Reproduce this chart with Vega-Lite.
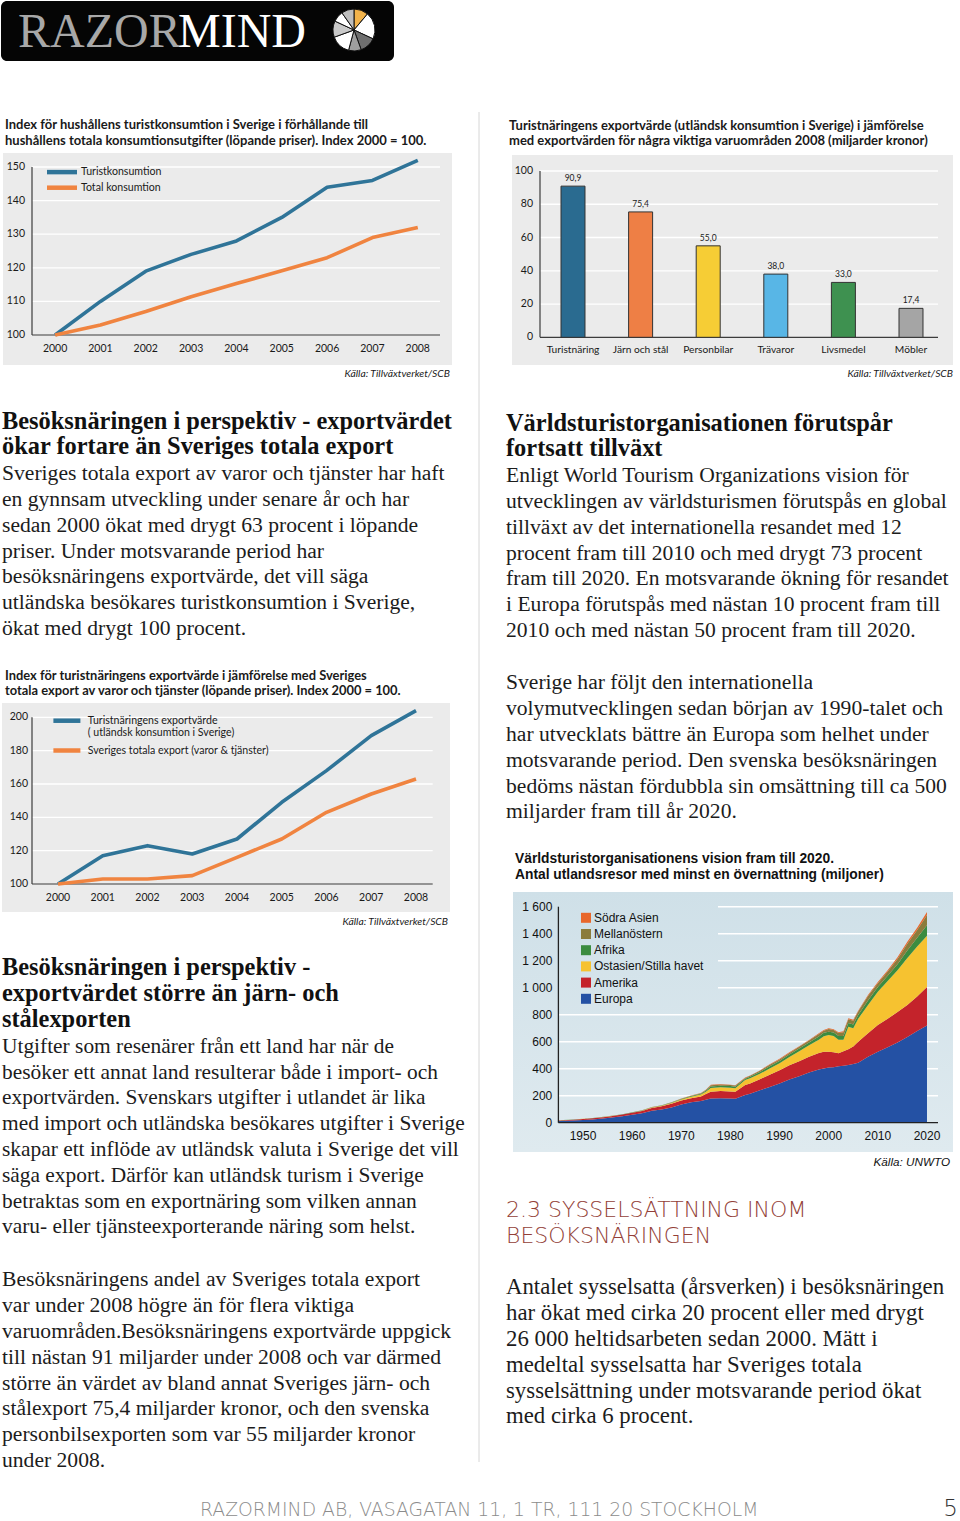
{
 "$schema": "https://vega.github.io/schema/vega-lite/v6.json",
 "width": 960,
 "height": 1521,
 "padding": 0,
 "autosize": {"type": "none"},
 "background": "#ffffff",
 "config": {
  "view": {"stroke": null},
  "axis": {"labelFlush": false, "labelOverlap": false},
  "locale": {"number": {"decimal": ",", "thousands": " ", "grouping": [3], "currency": ["", " kr"]}},
  "legend": {"symbolOpacity": 1}
 },
 "resolve": {"scale": {"x": "independent", "y": "independent", "color": "independent"}, "axis": {"x": "independent", "y": "independent"}, "legend": {"color": "independent"}},
 "datasets": {
  "c1": [
   {"year": 2000, "serie": "Turistkonsumtion", "value": 100},
   {"year": 2001, "serie": "Turistkonsumtion", "value": 110},
   {"year": 2002, "serie": "Turistkonsumtion", "value": 119},
   {"year": 2003, "serie": "Turistkonsumtion", "value": 124},
   {"year": 2004, "serie": "Turistkonsumtion", "value": 128},
   {"year": 2005, "serie": "Turistkonsumtion", "value": 135},
   {"year": 2006, "serie": "Turistkonsumtion", "value": 144},
   {"year": 2007, "serie": "Turistkonsumtion", "value": 146},
   {"year": 2008, "serie": "Turistkonsumtion", "value": 152},
   {"year": 2000, "serie": "Total konsumtion", "value": 100},
   {"year": 2001, "serie": "Total konsumtion", "value": 103},
   {"year": 2002, "serie": "Total konsumtion", "value": 107},
   {"year": 2003, "serie": "Total konsumtion", "value": 111.4},
   {"year": 2004, "serie": "Total konsumtion", "value": 115.3},
   {"year": 2005, "serie": "Total konsumtion", "value": 119.1},
   {"year": 2006, "serie": "Total konsumtion", "value": 123},
   {"year": 2007, "serie": "Total konsumtion", "value": 129},
   {"year": 2008, "serie": "Total konsumtion", "value": 132}
  ],
  "c2": [
   {"cat": "Turistnäring", "value": 90.9},
   {"cat": "Järn och stål", "value": 75.4},
   {"cat": "Personbilar", "value": 55.0},
   {"cat": "Trävaror", "value": 38.0},
   {"cat": "Livsmedel", "value": 33.0},
   {"cat": "Möbler", "value": 17.4}
  ],
  "c3": [
   {"year": 2000, "serie": "Turistnäringens exportvärde", "value": 100},
   {"year": 2001, "serie": "Turistnäringens exportvärde", "value": 117},
   {"year": 2002, "serie": "Turistnäringens exportvärde", "value": 123},
   {"year": 2003, "serie": "Turistnäringens exportvärde", "value": 118},
   {"year": 2004, "serie": "Turistnäringens exportvärde", "value": 127},
   {"year": 2005, "serie": "Turistnäringens exportvärde", "value": 149},
   {"year": 2006, "serie": "Turistnäringens exportvärde", "value": 168},
   {"year": 2007, "serie": "Turistnäringens exportvärde", "value": 189},
   {"year": 2008, "serie": "Turistnäringens exportvärde", "value": 204},
   {"year": 2000, "serie": "Sveriges totala export (varor & tjänster)", "value": 100},
   {"year": 2001, "serie": "Sveriges totala export (varor & tjänster)", "value": 103},
   {"year": 2002, "serie": "Sveriges totala export (varor & tjänster)", "value": 103},
   {"year": 2003, "serie": "Sveriges totala export (varor & tjänster)", "value": 105},
   {"year": 2004, "serie": "Sveriges totala export (varor & tjänster)", "value": 116},
   {"year": 2005, "serie": "Sveriges totala export (varor & tjänster)", "value": 127},
   {"year": 2006, "serie": "Sveriges totala export (varor & tjänster)", "value": 143},
   {"year": 2007, "serie": "Sveriges totala export (varor & tjänster)", "value": 154},
   {"year": 2008, "serie": "Sveriges totala export (varor & tjänster)", "value": 163}
  ],
  "c4": [
   {"year":1945,"region":"Europa","k":1,"value":12},{"year":1945,"region":"Amerika","k":2,"value":5},{"year":1945,"region":"Ostasien/Stilla havet","k":3,"value":0.3},{"year":1945,"region":"Afrika","k":4,"value":0.5},{"year":1945,"region":"Mellanöstern","k":5,"value":0.3},{"year":1945,"region":"Södra Asien","k":6,"value":0.2},
   {"year":1948,"region":"Europa","k":1,"value":16},{"year":1948,"region":"Amerika","k":2,"value":6},{"year":1948,"region":"Ostasien/Stilla havet","k":3,"value":0.4},{"year":1948,"region":"Afrika","k":4,"value":0.5},{"year":1948,"region":"Mellanöstern","k":5,"value":0.3},{"year":1948,"region":"Södra Asien","k":6,"value":0.2},
   {"year":1950,"region":"Europa","k":1,"value":20},{"year":1950,"region":"Amerika","k":2,"value":8},{"year":1950,"region":"Ostasien/Stilla havet","k":3,"value":0.5},{"year":1950,"region":"Afrika","k":4,"value":0.6},{"year":1950,"region":"Mellanöstern","k":5,"value":0.4},{"year":1950,"region":"Södra Asien","k":6,"value":0.2},
   {"year":1952,"region":"Europa","k":1,"value":24},{"year":1952,"region":"Amerika","k":2,"value":9},{"year":1952,"region":"Ostasien/Stilla havet","k":3,"value":0.6},{"year":1952,"region":"Afrika","k":4,"value":0.7},{"year":1952,"region":"Mellanöstern","k":5,"value":0.4},{"year":1952,"region":"Södra Asien","k":6,"value":0.2},
   {"year":1955,"region":"Europa","k":1,"value":34},{"year":1955,"region":"Amerika","k":2,"value":11},{"year":1955,"region":"Ostasien/Stilla havet","k":3,"value":0.8},{"year":1955,"region":"Afrika","k":4,"value":0.8},{"year":1955,"region":"Mellanöstern","k":5,"value":0.5},{"year":1955,"region":"Södra Asien","k":6,"value":0.3},
   {"year":1958,"region":"Europa","k":1,"value":48},{"year":1958,"region":"Amerika","k":2,"value":12},{"year":1958,"region":"Ostasien/Stilla havet","k":3,"value":1.2},{"year":1958,"region":"Afrika","k":4,"value":1},{"year":1958,"region":"Mellanöstern","k":5,"value":0.7},{"year":1958,"region":"Södra Asien","k":6,"value":0.3},
   {"year":1960,"region":"Europa","k":1,"value":58},{"year":1960,"region":"Amerika","k":2,"value":15},{"year":1960,"region":"Ostasien/Stilla havet","k":3,"value":1.5},{"year":1960,"region":"Afrika","k":4,"value":1.2},{"year":1960,"region":"Mellanöstern","k":5,"value":0.8},{"year":1960,"region":"Södra Asien","k":6,"value":0.4},
   {"year":1962,"region":"Europa","k":1,"value":70},{"year":1962,"region":"Amerika","k":2,"value":17},{"year":1962,"region":"Ostasien/Stilla havet","k":3,"value":2},{"year":1962,"region":"Afrika","k":4,"value":1.4},{"year":1962,"region":"Mellanöstern","k":5,"value":1},{"year":1962,"region":"Södra Asien","k":6,"value":0.5},
   {"year":1964,"region":"Europa","k":1,"value":88},{"year":1964,"region":"Amerika","k":2,"value":21},{"year":1964,"region":"Ostasien/Stilla havet","k":3,"value":3},{"year":1964,"region":"Afrika","k":4,"value":1.8},{"year":1964,"region":"Mellanöstern","k":5,"value":1.3},{"year":1964,"region":"Södra Asien","k":6,"value":0.6},
   {"year":1966,"region":"Europa","k":1,"value":97},{"year":1966,"region":"Amerika","k":2,"value":24},{"year":1966,"region":"Ostasien/Stilla havet","k":3,"value":4},{"year":1966,"region":"Afrika","k":4,"value":2.2},{"year":1966,"region":"Mellanöstern","k":5,"value":1.6},{"year":1966,"region":"Södra Asien","k":6,"value":0.7},
   {"year":1968,"region":"Europa","k":1,"value":112},{"year":1968,"region":"Amerika","k":2,"value":28},{"year":1968,"region":"Ostasien/Stilla havet","k":3,"value":6},{"year":1968,"region":"Afrika","k":4,"value":2.7},{"year":1968,"region":"Mellanöstern","k":5,"value":2},{"year":1968,"region":"Södra Asien","k":6,"value":0.8},
   {"year":1970,"region":"Europa","k":1,"value":135},{"year":1970,"region":"Amerika","k":2,"value":29},{"year":1970,"region":"Ostasien/Stilla havet","k":3,"value":8},{"year":1970,"region":"Afrika","k":4,"value":3.5},{"year":1970,"region":"Mellanöstern","k":5,"value":2.5},{"year":1970,"region":"Södra Asien","k":6,"value":1},
   {"year":1972,"region":"Europa","k":1,"value":152},{"year":1972,"region":"Amerika","k":2,"value":30},{"year":1972,"region":"Ostasien/Stilla havet","k":3,"value":11},{"year":1972,"region":"Afrika","k":4,"value":4},{"year":1972,"region":"Mellanöstern","k":5,"value":3},{"year":1972,"region":"Södra Asien","k":6,"value":1.2},
   {"year":1974,"region":"Europa","k":1,"value":160},{"year":1974,"region":"Amerika","k":2,"value":35},{"year":1974,"region":"Ostasien/Stilla havet","k":3,"value":14},{"year":1974,"region":"Afrika","k":4,"value":5},{"year":1974,"region":"Mellanöstern","k":5,"value":4},{"year":1974,"region":"Södra Asien","k":6,"value":1.5},
   {"year":1975,"region":"Europa","k":1,"value":170},{"year":1975,"region":"Amerika","k":2,"value":42},{"year":1975,"region":"Ostasien/Stilla havet","k":3,"value":18},{"year":1975,"region":"Afrika","k":4,"value":7},{"year":1975,"region":"Mellanöstern","k":5,"value":5},{"year":1975,"region":"Södra Asien","k":6,"value":2},
   {"year":1976,"region":"Europa","k":1,"value":180},{"year":1976,"region":"Amerika","k":2,"value":50},{"year":1976,"region":"Ostasien/Stilla havet","k":3,"value":27},{"year":1976,"region":"Afrika","k":4,"value":12},{"year":1976,"region":"Mellanöstern","k":5,"value":9},{"year":1976,"region":"Södra Asien","k":6,"value":4},
   {"year":1978,"region":"Europa","k":1,"value":182},{"year":1978,"region":"Amerika","k":2,"value":52},{"year":1978,"region":"Ostasien/Stilla havet","k":3,"value":28},{"year":1978,"region":"Afrika","k":4,"value":12},{"year":1978,"region":"Mellanöstern","k":5,"value":9},{"year":1978,"region":"Södra Asien","k":6,"value":4},
   {"year":1980,"region":"Europa","k":1,"value":180},{"year":1980,"region":"Amerika","k":2,"value":52},{"year":1980,"region":"Ostasien/Stilla havet","k":3,"value":27},{"year":1980,"region":"Afrika","k":4,"value":12},{"year":1980,"region":"Mellanöstern","k":5,"value":8},{"year":1980,"region":"Södra Asien","k":6,"value":3},
   {"year":1981,"region":"Europa","k":1,"value":178},{"year":1981,"region":"Amerika","k":2,"value":52},{"year":1981,"region":"Ostasien/Stilla havet","k":3,"value":26},{"year":1981,"region":"Afrika","k":4,"value":11},{"year":1981,"region":"Mellanöstern","k":5,"value":8},{"year":1981,"region":"Södra Asien","k":6,"value":3},
   {"year":1983,"region":"Europa","k":1,"value":205},{"year":1983,"region":"Amerika","k":2,"value":74},{"year":1983,"region":"Ostasien/Stilla havet","k":3,"value":37},{"year":1983,"region":"Afrika","k":4,"value":10},{"year":1983,"region":"Mellanöstern","k":5,"value":6},{"year":1983,"region":"Södra Asien","k":6,"value":3},
   {"year":1984,"region":"Europa","k":1,"value":215},{"year":1984,"region":"Amerika","k":2,"value":76},{"year":1984,"region":"Ostasien/Stilla havet","k":3,"value":38},{"year":1984,"region":"Afrika","k":4,"value":11},{"year":1984,"region":"Mellanöstern","k":5,"value":7},{"year":1984,"region":"Södra Asien","k":6,"value":3},
   {"year":1986,"region":"Europa","k":1,"value":240},{"year":1986,"region":"Amerika","k":2,"value":82},{"year":1986,"region":"Ostasien/Stilla havet","k":3,"value":40},{"year":1986,"region":"Afrika","k":4,"value":13},{"year":1986,"region":"Mellanöstern","k":5,"value":9},{"year":1986,"region":"Södra Asien","k":6,"value":3.5},
   {"year":1988,"region":"Europa","k":1,"value":265},{"year":1988,"region":"Amerika","k":2,"value":90},{"year":1988,"region":"Ostasien/Stilla havet","k":3,"value":47},{"year":1988,"region":"Afrika","k":4,"value":16},{"year":1988,"region":"Mellanöstern","k":5,"value":11},{"year":1988,"region":"Södra Asien","k":6,"value":4},
   {"year":1990,"region":"Europa","k":1,"value":290},{"year":1990,"region":"Amerika","k":2,"value":98},{"year":1990,"region":"Ostasien/Stilla havet","k":3,"value":52},{"year":1990,"region":"Afrika","k":4,"value":17},{"year":1990,"region":"Mellanöstern","k":5,"value":12},{"year":1990,"region":"Södra Asien","k":6,"value":5},
   {"year":1992,"region":"Europa","k":1,"value":320},{"year":1992,"region":"Amerika","k":2,"value":105},{"year":1992,"region":"Ostasien/Stilla havet","k":3,"value":62},{"year":1992,"region":"Afrika","k":4,"value":18},{"year":1992,"region":"Mellanöstern","k":5,"value":12},{"year":1992,"region":"Södra Asien","k":6,"value":5},
   {"year":1994,"region":"Europa","k":1,"value":345},{"year":1994,"region":"Amerika","k":2,"value":110},{"year":1994,"region":"Ostasien/Stilla havet","k":3,"value":75},{"year":1994,"region":"Afrika","k":4,"value":19},{"year":1994,"region":"Mellanöstern","k":5,"value":13},{"year":1994,"region":"Södra Asien","k":6,"value":5},
   {"year":1996,"region":"Europa","k":1,"value":372},{"year":1996,"region":"Amerika","k":2,"value":116},{"year":1996,"region":"Ostasien/Stilla havet","k":3,"value":85},{"year":1996,"region":"Afrika","k":4,"value":21},{"year":1996,"region":"Mellanöstern","k":5,"value":14},{"year":1996,"region":"Södra Asien","k":6,"value":5},
   {"year":1998,"region":"Europa","k":1,"value":395},{"year":1998,"region":"Amerika","k":2,"value":122},{"year":1998,"region":"Ostasien/Stilla havet","k":3,"value":98},{"year":1998,"region":"Afrika","k":4,"value":24},{"year":1998,"region":"Mellanöstern","k":5,"value":18},{"year":1998,"region":"Södra Asien","k":6,"value":6},
   {"year":1999,"region":"Europa","k":1,"value":402},{"year":1999,"region":"Amerika","k":2,"value":124},{"year":1999,"region":"Ostasien/Stilla havet","k":3,"value":115},{"year":1999,"region":"Afrika","k":4,"value":25},{"year":1999,"region":"Mellanöstern","k":5,"value":16},{"year":1999,"region":"Södra Asien","k":6,"value":5},
   {"year":2000,"region":"Europa","k":1,"value":408},{"year":2000,"region":"Amerika","k":2,"value":118},{"year":2000,"region":"Ostasien/Stilla havet","k":3,"value":124},{"year":2000,"region":"Afrika","k":4,"value":24},{"year":2000,"region":"Mellanöstern","k":5,"value":20},{"year":2000,"region":"Södra Asien","k":6,"value":5},
   {"year":2001,"region":"Europa","k":1,"value":410},{"year":2001,"region":"Amerika","k":2,"value":112},{"year":2001,"region":"Ostasien/Stilla havet","k":3,"value":120},{"year":2001,"region":"Afrika","k":4,"value":26},{"year":2001,"region":"Mellanöstern","k":5,"value":19},{"year":2001,"region":"Södra Asien","k":6,"value":5},
   {"year":2002,"region":"Europa","k":1,"value":418},{"year":2002,"region":"Amerika","k":2,"value":96},{"year":2002,"region":"Ostasien/Stilla havet","k":3,"value":100},{"year":2002,"region":"Afrika","k":4,"value":28},{"year":2002,"region":"Mellanöstern","k":5,"value":22},{"year":2002,"region":"Södra Asien","k":6,"value":6},
   {"year":2003,"region":"Europa","k":1,"value":422},{"year":2003,"region":"Amerika","k":2,"value":108},{"year":2003,"region":"Ostasien/Stilla havet","k":3,"value":85},{"year":2003,"region":"Afrika","k":4,"value":28},{"year":2003,"region":"Mellanöstern","k":5,"value":27},{"year":2003,"region":"Södra Asien","k":6,"value":7},
   {"year":2004,"region":"Europa","k":1,"value":428},{"year":2004,"region":"Amerika","k":2,"value":117},{"year":2004,"region":"Ostasien/Stilla havet","k":3,"value":166},{"year":2004,"region":"Afrika","k":4,"value":28},{"year":2004,"region":"Mellanöstern","k":5,"value":27},{"year":2004,"region":"Södra Asien","k":6,"value":7},
   {"year":2005,"region":"Europa","k":1,"value":435},{"year":2005,"region":"Amerika","k":2,"value":130},{"year":2005,"region":"Ostasien/Stilla havet","k":3,"value":135},{"year":2005,"region":"Afrika","k":4,"value":28},{"year":2005,"region":"Mellanöstern","k":5,"value":27},{"year":2005,"region":"Södra Asien","k":6,"value":7},
   {"year":2006,"region":"Europa","k":1,"value":445},{"year":2006,"region":"Amerika","k":2,"value":155},{"year":2006,"region":"Ostasien/Stilla havet","k":3,"value":170},{"year":2006,"region":"Afrika","k":4,"value":28},{"year":2006,"region":"Mellanöstern","k":5,"value":25},{"year":2006,"region":"Södra Asien","k":6,"value":7},
   {"year":2008,"region":"Europa","k":1,"value":489},{"year":2008,"region":"Amerika","k":2,"value":173},{"year":2008,"region":"Ostasien/Stilla havet","k":3,"value":210},{"year":2008,"region":"Afrika","k":4,"value":34},{"year":2008,"region":"Mellanöstern","k":5,"value":32},{"year":2008,"region":"Södra Asien","k":6,"value":8},
   {"year":2010,"region":"Europa","k":1,"value":526},{"year":2010,"region":"Amerika","k":2,"value":198},{"year":2010,"region":"Ostasien/Stilla havet","k":3,"value":246},{"year":2010,"region":"Afrika","k":4,"value":35},{"year":2010,"region":"Mellanöstern","k":5,"value":28},{"year":2010,"region":"Södra Asien","k":6,"value":9},
   {"year":2012,"region":"Europa","k":1,"value":558},{"year":2012,"region":"Amerika","k":2,"value":212},{"year":2012,"region":"Ostasien/Stilla havet","k":3,"value":280},{"year":2012,"region":"Afrika","k":4,"value":38},{"year":2012,"region":"Mellanöstern","k":5,"value":32},{"year":2012,"region":"Södra Asien","k":6,"value":10},
   {"year":2014,"region":"Europa","k":1,"value":595},{"year":2014,"region":"Amerika","k":2,"value":225},{"year":2014,"region":"Ostasien/Stilla havet","k":3,"value":310},{"year":2014,"region":"Afrika","k":4,"value":44},{"year":2014,"region":"Mellanöstern","k":5,"value":38},{"year":2014,"region":"Södra Asien","k":6,"value":13},
   {"year":2016,"region":"Europa","k":1,"value":635},{"year":2016,"region":"Amerika","k":2,"value":237},{"year":2016,"region":"Ostasien/Stilla havet","k":3,"value":348},{"year":2016,"region":"Afrika","k":4,"value":55},{"year":2016,"region":"Mellanöstern","k":5,"value":50},{"year":2016,"region":"Södra Asien","k":6,"value":15},
   {"year":2018,"region":"Europa","k":1,"value":680},{"year":2018,"region":"Amerika","k":2,"value":255},{"year":2018,"region":"Ostasien/Stilla havet","k":3,"value":370},{"year":2018,"region":"Afrika","k":4,"value":65},{"year":2018,"region":"Mellanöstern","k":5,"value":58},{"year":2018,"region":"Södra Asien","k":6,"value":17},
   {"year":2020,"region":"Europa","k":1,"value":720},{"year":2020,"region":"Amerika","k":2,"value":285},{"year":2020,"region":"Ostasien/Stilla havet","k":3,"value":380},{"year":2020,"region":"Afrika","k":4,"value":78},{"year":2020,"region":"Mellanöstern","k":5,"value":75},{"year":2020,"region":"Södra Asien","k":6,"value":22}
  ],
  "L1h": [
   {"i": 0, "t": "Besöksnäringen i perspektiv -  exportvärdet"},
   {"i": 1, "t": "ökar fortare än Sveriges totala export"}
  ],
  "L1b": [
   {"i": 2, "t": "Sveriges totala export av varor och tjänster har haft"},
   {"i": 3, "t": "en gynnsam utveckling under senare år och har"},
   {"i": 4, "t": "sedan 2000 ökat med drygt 63 procent i löpande"},
   {"i": 5, "t": "priser. Under motsvarande period har"},
   {"i": 6, "t": "besöksnäringens exportvärde, det vill säga"},
   {"i": 7, "t": "utländska besökares turistkonsumtion i Sverige,"},
   {"i": 8, "t": "ökat med drygt 100 procent."}
  ],
  "R1h": [
   {"i": 0, "t": "Världsturistorganisationen förutspår"},
   {"i": 1, "t": "fortsatt tillväxt"}
  ],
  "R1b": [
   {"i": 2, "t": "Enligt World Tourism Organizations vision för"},
   {"i": 3, "t": "utvecklingen av världsturismen förutspås en global"},
   {"i": 4, "t": "tillväxt av det internationella resandet med 12"},
   {"i": 5, "t": "procent fram till 2010 och med drygt 73 procent"},
   {"i": 6, "t": "fram till 2020. En motsvarande ökning för resandet"},
   {"i": 7, "t": "i Europa förutspås med nästan 10 procent fram till"},
   {"i": 8, "t": "2010 och med nästan 50 procent fram till 2020."}
  ],
  "R2b": [
   {"i": 0, "t": "Sverige har följt den internationella"},
   {"i": 1, "t": "volymutvecklingen sedan början av 1990-talet och"},
   {"i": 2, "t": "har utvecklats bättre än Europa som helhet under"},
   {"i": 3, "t": "motsvarande period.  Den svenska besöksnäringen"},
   {"i": 4, "t": "bedöms nästan fördubbla sin omsättning till ca 500"},
   {"i": 5, "t": "miljarder fram till år 2020."}
  ],
  "L2h": [
   {"i": 0, "t": "Besöksnäringen i perspektiv -"},
   {"i": 1, "t": "exportvärdet större än järn- och"},
   {"i": 2, "t": "stålexporten"}
  ],
  "L2b": [
   {"i": 3, "t": "Utgifter som resenärer från ett land har när de"},
   {"i": 4, "t": "besöker ett annat land resulterar både i import- och"},
   {"i": 5, "t": "exportvärden. Svenskars utgifter i utlandet är lika"},
   {"i": 6, "t": "med import och utländska besökares utgifter i Sverige"},
   {"i": 7, "t": "skapar ett inflöde av utländsk valuta i Sverige det vill"},
   {"i": 8, "t": "säga export. Därför kan utländsk turism i Sverige"},
   {"i": 9, "t": "betraktas som en exportnäring som vilken annan"},
   {"i": 10, "t": "varu- eller tjänsteexporterande näring som helst."}
  ],
  "L3b": [
   {"i": 0, "t": "Besöksnäringens andel av Sveriges totala export"},
   {"i": 1, "t": "var under 2008 högre än för flera viktiga"},
   {"i": 2, "t": "varuområden.Besöksnäringens exportvärde uppgick"},
   {"i": 3, "t": "till nästan 91 miljarder under 2008 och var därmed"},
   {"i": 4, "t": "större än värdet av bland annat Sveriges järn- och"},
   {"i": 5, "t": "stålexport 75,4 miljarder kronor, och den svenska"},
   {"i": 6, "t": "personbilsexporten som var 55 miljarder kronor"},
   {"i": 7, "t": "under 2008."}
  ],
  "S3h": [
   {"i": 0, "t": "2.3 SYSSELSÄTTNING INOM"},
   {"i": 1, "t": "BESÖKSNÄRINGEN"}
  ],
  "R3b": [
   {"i": 0, "t": "Antalet sysselsatta (årsverken) i besöksnäringen"},
   {"i": 1, "t": "har ökat med cirka 20 procent eller med drygt"},
   {"i": 2, "t": "26 000 heltidsarbeten sedan 2000. Mätt i"},
   {"i": 3, "t": "medeltal sysselsatta har Sveriges totala"},
   {"i": 4, "t": "sysselsättning under motsvarande period ökat"},
   {"i": 5, "t": "med cirka 6 procent."}
  ],
  "years": [{"v": 2000}, {"v": 2001}, {"v": 2002}, {"v": 2003}, {"v": 2004}, {"v": 2005}, {"v": 2006}, {"v": 2007}, {"v": 2008}]
 },
 "layer": [
  {
   "layer": [
    {"data": {"values": [{}]}, "mark": {"type": "rect", "color": "#050505", "cornerRadius": 6},
     "encoding": {"x": {"datum": 0, "type": "quantitative", "scale": {"domain": [0, 1], "range": [1, 394]}, "axis": null}, "x2": {"datum": 1},
                  "y": {"datum": 0, "type": "quantitative", "scale": {"domain": [0, 1], "range": [1, 61]}, "axis": null}, "y2": {"datum": 1}}},
    {"data": {"values": [{"w": "RAZOR"}]}, "mark": {"type": "text", "align": "left", "baseline": "alphabetic", "font": "Liberation Serif", "fontSize": 48, "color": "#a8a8a8"},
     "encoding": {"x": {"datum": 0.0433, "type": "quantitative", "axis": null}, "y": {"datum": 0.7617, "type": "quantitative", "axis": null}, "text": {"field": "w"}}},
    {"data": {"values": [{"w": "MIND"}]}, "mark": {"type": "text", "align": "left", "baseline": "alphabetic", "font": "Liberation Serif", "fontSize": 48, "color": "#ffffff"},
     "encoding": {"x": {"datum": 0.4504, "type": "quantitative", "axis": null}, "y": {"datum": 0.7617, "type": "quantitative", "axis": null}, "text": {"field": "w"}}},
    {"data": {"values": [{"p": "a", "v": 40}, {"p": "b", "v": 75}, {"p": "c", "v": 45}, {"p": "d", "v": 35}, {"p": "e", "v": 55}, {"p": "f", "v": 45}, {"p": "g", "v": 30}, {"p": "h", "v": 35}]},
     "mark": {"type": "arc", "radius": 21, "stroke": "#111111", "strokeWidth": 1},
     "encoding": {"theta": {"field": "v", "type": "quantitative", "stack": true},
                  "order": {"field": "p", "type": "ordinal"},
                  "color": {"field": "p", "type": "nominal", "scale": {"domain": ["a", "b", "c", "d", "e", "f", "g", "h"], "range": ["#f2b34b", "#ffffff", "#6f6f6f", "#9e9e9e", "#ffffff", "#c9c9c9", "#ffffff", "#bdbdbd"]}, "legend": null},
                  "x": {"datum": 0.8982, "type": "quantitative", "axis": null},
                  "y": {"datum": 0.4833, "type": "quantitative", "axis": null}}}
   ]
  },
  {"data": {"values": [{}]}, "mark": {"type": "rule", "color": "#d6d6d6", "strokeWidth": 1},
   "encoding": {"x": {"datum": 0, "type": "quantitative", "scale": {"domain": [0, 1], "range": [479, 480]}, "axis": null},
                "y": {"datum": 0, "type": "quantitative", "scale": {"domain": [0, 1], "range": [112, 1462]}, "axis": null}, "y2": {"datum": 1}}},
  {
   "data": {"name": "c1"},
   "layer": [
    {"data": {"values": [{}]}, "mark": {"type": "rect", "color": "#ebebeb"},
     "encoding": {"x": {"datum": 1998.85, "type": "quantitative", "axis": null}, "x2": {"datum": 2008.755}, "y": {"datum": 154.17, "type": "quantitative", "axis": null}, "y2": {"datum": 91.07}}},
    {"data": {"values": [{"g": 110}, {"g": 120}, {"g": 130}, {"g": 140}, {"g": 150}]}, "mark": {"type": "rule", "color": "#ffffff", "strokeWidth": 1.3},
     "encoding": {"x": {"datum": 1999.49, "type": "quantitative", "axis": null}, "x2": {"datum": 2008.49}, "y": {"field": "g", "type": "quantitative", "axis": null}}},
    {"data": {"values": [{}]}, "mark": {"type": "rule", "color": "#3c3c3c", "strokeWidth": 1.2},
     "encoding": {"x": {"datum": 1999.49, "type": "quantitative", "axis": null}, "x2": {"datum": 2008.49}, "y": {"datum": 100, "type": "quantitative", "axis": null}}},
    {"data": {"values": [{}]}, "mark": {"type": "rule", "color": "#3c3c3c", "strokeWidth": 1.2},
     "encoding": {"x": {"datum": 1999.49, "type": "quantitative", "axis": null}, "y": {"datum": 100, "type": "quantitative", "axis": null}, "y2": {"datum": 150}}},
    {"data": {"values": [{"v": 100}, {"v": 110}, {"v": 120}, {"v": 130}, {"v": 140}, {"v": 150}]}, "mark": {"type": "text", "align": "right", "baseline": "middle", "font": "Lato", "fontSize": 10.5, "color": "#1a1a1a"},
     "encoding": {"x": {"datum": 1999.336, "type": "quantitative", "axis": null}, "y": {"field": "v", "type": "quantitative", "axis": null}, "text": {"field": "v", "type": "nominal"}}},
    {"data": {"name": "years"}, "mark": {"type": "text", "align": "center", "baseline": "middle", "font": "Lato", "fontSize": 10.5, "color": "#1a1a1a"},
     "encoding": {"x": {"field": "v", "type": "quantitative", "axis": null}, "y": {"datum": 95.83, "type": "quantitative", "axis": null}, "text": {"field": "v", "type": "nominal"}}},
    {"mark": {"type": "line", "strokeWidth": 3.6, "strokeJoin": "round"},
     "encoding": {
      "x": {"field": "year", "type": "quantitative", "scale": {"domain": [1999.49, 2008.49], "range": [32, 440], "nice": false, "zero": false}, "axis": null},
      "y": {"field": "value", "type": "quantitative", "scale": {"domain": [100, 150], "range": [335, 167], "nice": false, "zero": false}, "axis": null},
      "color": {"field": "serie", "type": "nominal", "scale": {"domain": ["Turistkonsumtion", "Total konsumtion"], "range": ["#2f7498", "#f08440"]},
                "legend": {"orient": "none", "legendX": 56, "legendY": 166.1, "direction": "vertical", "title": null, "symbolType": "M-4,0L4,0", "symbolSize": 56.25, "symbolStrokeWidth": 4.5, "labelOffset": 13, "rowPadding": -2.4, "padding": 0, "labelFont": "Lato", "labelFontSize": 10.6, "labelColor": "#1a1a1a", "labelLimit": 300}}
     }},
    {"data": {"values": [{}]}, "mark": {"type": "text", "text": ["Index för hushållens turistkonsumtion i Sverige i förhållande till", "hushållens totala konsumtionsutgifter (löpande priser). Index 2000 = 100."], "lineHeight": 15.7, "align": "left", "baseline": "alphabetic", "font": "Lato", "fontWeight": "bold", "fontSize": 13, "color": "#1a1a1a"},
     "encoding": {"x": {"datum": 1998.894, "type": "quantitative", "axis": null}, "y": {"datum": 161.22, "type": "quantitative", "axis": null}}},
    {"data": {"values": [{}]}, "mark": {"type": "text", "text": "Källa: Tillväxtverket/SCB", "align": "right", "baseline": "alphabetic", "font": "Lato", "fontStyle": "italic", "fontSize": 10.3, "color": "#1a1a1a"},
     "encoding": {"x": {"datum": 2008.71, "type": "quantitative", "axis": null}, "y": {"datum": 87.5, "type": "quantitative", "axis": null}}}
   ]
  },
  {
   "resolve": {"scale": {"x": "independent"}},
   "layer": [
    {
     "layer": [
      {"data": {"values": [{}]}, "mark": {"type": "rect", "color": "#ebebeb"},
       "encoding": {"x": {"datum": -0.0704, "type": "quantitative", "scale": {"domain": [0, 1], "range": [540, 938]}, "axis": null}, "x2": {"datum": 1.0377}, "y": {"datum": 109.6, "type": "quantitative", "axis": null}, "y2": {"datum": -16.66}}},
      {"data": {"values": [{"g": 20}, {"g": 40}, {"g": 60}, {"g": 80}, {"g": 100}]}, "mark": {"type": "rule", "color": "#ffffff", "strokeWidth": 1.3},
       "encoding": {"x": {"datum": 0, "type": "quantitative", "axis": null}, "x2": {"datum": 1}, "y": {"field": "g", "type": "quantitative", "axis": null}}},
      {"data": {"values": [{}]}, "mark": {"type": "rule", "color": "#3c3c3c", "strokeWidth": 1.2},
       "encoding": {"x": {"datum": 0, "type": "quantitative", "axis": null}, "x2": {"datum": 1}, "y": {"datum": 0, "type": "quantitative", "axis": null}}},
      {"data": {"values": [{}]}, "mark": {"type": "rule", "color": "#3c3c3c", "strokeWidth": 1.2},
       "encoding": {"x": {"datum": 0, "type": "quantitative", "axis": null}, "y": {"datum": 0, "type": "quantitative", "axis": null}, "y2": {"datum": 100}}},
      {"data": {"values": [{"v": 0}, {"v": 20}, {"v": 40}, {"v": 60}, {"v": 80}, {"v": 100}]}, "mark": {"type": "text", "align": "right", "baseline": "middle", "font": "Lato", "fontSize": 10.5, "color": "#1a1a1a"},
       "encoding": {"x": {"datum": -0.0176, "type": "quantitative", "axis": null}, "y": {"field": "v", "type": "quantitative", "axis": null}, "text": {"field": "v", "type": "nominal"}}},
      {"data": {"values": [{}]}, "mark": {"type": "text", "text": ["Turistnäringens exportvärde (utländsk konsumtion i Sverige) i jämförelse", "med exportvärden för några viktiga varuområden 2008 (miljarder kronor)"], "lineHeight": 15.3, "align": "left", "baseline": "alphabetic", "font": "Lato", "fontWeight": "bold", "fontSize": 13, "color": "#1a1a1a"},
       "encoding": {"x": {"datum": -0.0779, "type": "quantitative", "axis": null}, "y": {"datum": 124.65, "type": "quantitative", "axis": null}}},
      {"data": {"values": [{}]}, "mark": {"type": "text", "text": "Källa: Tillväxtverket/SCB", "align": "right", "baseline": "alphabetic", "font": "Lato", "fontStyle": "italic", "fontSize": 10.3, "color": "#1a1a1a"},
       "encoding": {"x": {"datum": 1.0377, "type": "quantitative", "axis": null}, "y": {"datum": -23.87, "type": "quantitative", "axis": null}}}
     ]
    },
    {
     "data": {"name": "c2"},
     "layer": [
      {"mark": {"type": "bar", "stroke": "#333333", "strokeWidth": 1},
       "encoding": {
        "x": {"field": "cat", "type": "nominal", "sort": null, "scale": {"type": "band", "domain": ["Turistnäring", "Järn och stål", "Personbilar", "Trävaror", "Livsmedel", "Möbler"], "range": [539.2, 944.8], "paddingInner": 0.645, "paddingOuter": 0.3225}, "axis": null},
        "y": {"field": "value", "type": "quantitative", "scale": {"domain": [0, 100], "range": [337.3, 171], "nice": false, "zero": false}, "axis": null},
        "color": {"field": "cat", "type": "nominal", "scale": {"domain": ["Turistnäring", "Järn och stål", "Personbilar", "Trävaror", "Livsmedel", "Möbler"], "range": ["#2a6b90", "#ee7f45", "#f6cd35", "#58b6e6", "#3e9150", "#a5a5a5"]}, "legend": null}
       }},
      {"mark": {"type": "text", "baseline": "alphabetic", "dy": -5, "font": "Lato", "fontSize": 8.5, "color": "#1a1a1a"},
       "encoding": {
        "x": {"field": "cat", "type": "nominal", "sort": null, "axis": null},
        "y": {"field": "value", "type": "quantitative", "axis": null},
        "text": {"field": "value", "type": "quantitative", "format": ".1f"}
       }},
      {"mark": {"type": "text", "baseline": "middle", "font": "Lato", "fontSize": 10.2, "color": "#1a1a1a"},
       "encoding": {
        "x": {"field": "cat", "type": "nominal", "sort": null, "axis": null},
        "y": {"datum": -7.34, "type": "quantitative", "axis": null},
        "text": {"field": "cat", "type": "nominal"}
       }}
     ]
    }
   ]
  },
  {
   "data": {"name": "c3"},
   "layer": [
    {"data": {"values": [{}]}, "mark": {"type": "rect", "color": "#ebebeb"},
     "encoding": {"x": {"datum": 1998.749, "type": "quantitative", "axis": null}, "x2": {"datum": 2008.76}, "y": {"datum": 208.58, "type": "quantitative", "axis": null}, "y2": {"datum": 83.2}}},
    {"data": {"values": [{"g": 120}, {"g": 140}, {"g": 160}, {"g": 180}, {"g": 200}]}, "mark": {"type": "rule", "color": "#ffffff", "strokeWidth": 1.3},
     "encoding": {"x": {"datum": 1999.419, "type": "quantitative", "axis": null}, "x2": {"datum": 2008.373}, "y": {"field": "g", "type": "quantitative", "axis": null}}},
    {"data": {"values": [{}]}, "mark": {"type": "rule", "color": "#3c3c3c", "strokeWidth": 1.2},
     "encoding": {"x": {"datum": 1999.419, "type": "quantitative", "axis": null}, "x2": {"datum": 2008.373}, "y": {"datum": 100, "type": "quantitative", "axis": null}}},
    {"data": {"values": [{}]}, "mark": {"type": "rule", "color": "#3c3c3c", "strokeWidth": 1.2},
     "encoding": {"x": {"datum": 1999.419, "type": "quantitative", "axis": null}, "y": {"datum": 100, "type": "quantitative", "axis": null}, "y2": {"datum": 200}}},
    {"data": {"values": [{"v": 100}, {"v": 120}, {"v": 140}, {"v": 160}, {"v": 180}, {"v": 200}]}, "mark": {"type": "text", "align": "right", "baseline": "middle", "font": "Lato", "fontSize": 10.5, "color": "#1a1a1a"},
     "encoding": {"x": {"datum": 1999.33, "type": "quantitative", "axis": null}, "y": {"field": "v", "type": "quantitative", "axis": null}, "text": {"field": "v", "type": "nominal"}}},
    {"data": {"name": "years"}, "mark": {"type": "text", "align": "center", "baseline": "middle", "font": "Lato", "fontSize": 10.5, "color": "#1a1a1a"},
     "encoding": {"x": {"field": "v", "type": "quantitative", "axis": null}, "y": {"datum": 91.42, "type": "quantitative", "axis": null}, "text": {"field": "v", "type": "nominal"}}},
    {"mark": {"type": "line", "strokeWidth": 3.6, "strokeJoin": "round"},
     "encoding": {
      "x": {"field": "year", "type": "quantitative", "scale": {"domain": [1999.419, 2008.373], "range": [32, 432.7], "nice": false, "zero": false}, "axis": null},
      "y": {"field": "value", "type": "quantitative", "scale": {"domain": [100, 200], "range": [884, 717.3], "nice": false, "zero": false}, "axis": null},
      "color": {"field": "serie", "type": "nominal", "scale": {"domain": ["Turistnäringens exportvärde", "Sveriges totala export (varor & tjänster)"], "range": ["#2f7498", "#f08440"]},
                "legend": {"orient": "none", "legendX": 60.9, "legendY": 714.7, "direction": "vertical", "title": null, "symbolType": "M-4,0L4,0", "symbolSize": 45.6, "symbolStrokeWidth": 4.5, "labelOffset": 14.85, "rowPadding": 1.8, "padding": 0, "labelFont": "Lato", "labelFontSize": 10.6, "labelColor": "#1a1a1a", "labelLimit": 400,
                           "labelExpr": "datum.label == 'Turistnäringens exportvärde' ? ['Turistnäringens exportvärde', '( utländsk konsumtion i Sverige)'] : datum.label"}}
     }},
    {"data": {"values": [{}]}, "mark": {"type": "text", "text": ["Index för turistnäringens exportvärde i jämförelse med Sveriges", "totala export av varor och tjänster (löpande priser). Index 2000 = 100."], "lineHeight": 15, "align": "left", "baseline": "alphabetic", "font": "Lato", "fontWeight": "bold", "fontSize": 12.9, "color": "#1a1a1a"},
     "encoding": {"x": {"datum": 1998.816, "type": "quantitative", "axis": null}, "y": {"datum": 222.4, "type": "quantitative", "axis": null}}},
    {"data": {"values": [{}]}, "mark": {"type": "text", "text": "Källa: Tillväxtverket/SCB", "align": "right", "baseline": "alphabetic", "font": "Lato", "fontStyle": "italic", "fontSize": 10.3, "color": "#1a1a1a"},
     "encoding": {"x": {"datum": 2008.715, "type": "quantitative", "axis": null}, "y": {"datum": 75.4, "type": "quantitative", "axis": null}}}
   ]
  },
  {
   "data": {"name": "c4"},
   "layer": [
    {"data": {"values": [{}]}, "mark": {"type": "rect", "color": {"gradient": "linear", "x1": 0, "y1": 0, "x2": 0, "y2": 1, "stops": [{"offset": 0, "color": "#cfe0e8"}, {"offset": 1, "color": "#dfeaef"}]}},
     "encoding": {"x": {"datum": 1935.76, "type": "quantitative", "axis": null}, "x2": {"datum": 2025.29}, "y": {"datum": 1708.9, "type": "quantitative", "axis": null}, "y2": {"datum": -217}}},
    {"data": {"values": [{"g": 200}, {"g": 400}, {"g": 600}, {"g": 800}]}, "mark": {"type": "rule", "color": "#ffffff", "strokeWidth": 1.5},
     "encoding": {"x": {"datum": 1945, "type": "quantitative", "axis": null}, "x2": {"datum": 2022.24}, "y": {"field": "g", "type": "quantitative", "axis": null}}},
    {"data": {"values": [{"g": 1000}, {"g": 1200}, {"g": 1400}, {"g": 1600}]}, "mark": {"type": "rule", "color": "#ffffff", "strokeWidth": 1.5},
     "encoding": {"x": {"datum": 1977.47, "type": "quantitative", "axis": null}, "x2": {"datum": 2022.24}, "y": {"field": "g", "type": "quantitative", "axis": null}}},
    {"mark": {"type": "area"},
     "encoding": {
      "x": {"field": "year", "type": "quantitative", "scale": {"domain": [1945, 2022.24], "range": [558.4, 938], "nice": false, "zero": false}, "axis": null},
      "y": {"field": "value", "type": "quantitative", "stack": "zero", "scale": {"domain": [0, 1600], "range": [1122.7, 906.7], "nice": false, "zero": false}, "axis": null},
      "order": {"field": "k", "type": "quantitative"},
      "color": {"field": "region", "type": "nominal", "scale": {"domain": ["Södra Asien", "Mellanöstern", "Afrika", "Ostasien/Stilla havet", "Amerika", "Europa"], "range": ["#e8672b", "#8b7c3c", "#3b8c3f", "#f6c230", "#c4232b", "#2451a4"]},
                "legend": {"orient": "none", "legendX": 580, "legendY": 911.8, "direction": "vertical", "title": null, "symbolType": "square", "symbolSize": 100, "symbolStrokeWidth": 0, "labelOffset": 2, "rowPadding": 4.2, "padding": 0, "labelFont": "Liberation Sans", "labelFontSize": 12, "labelColor": "#111111", "labelLimit": 300}}
     }},
    {"data": {"values": [{}]}, "mark": {"type": "rule", "color": "#222222", "strokeWidth": 1.3},
     "encoding": {"x": {"datum": 1945, "type": "quantitative", "axis": null}, "x2": {"datum": 2022.24}, "y": {"datum": 0, "type": "quantitative", "axis": null}}},
    {"data": {"values": [{}]}, "mark": {"type": "rule", "color": "#222222", "strokeWidth": 1.3},
     "encoding": {"x": {"datum": 1945, "type": "quantitative", "axis": null}, "y": {"datum": 0, "type": "quantitative", "axis": null}, "y2": {"datum": 1600}}},
    {"data": {"values": [{"v": 0}, {"v": 200}, {"v": 400}, {"v": 600}, {"v": 800}, {"v": 1000}, {"v": 1200}, {"v": 1400}, {"v": 1600}]}, "mark": {"type": "text", "align": "right", "baseline": "middle", "font": "Liberation Sans", "fontSize": 12, "color": "#111111"},
     "encoding": {"x": {"datum": 1943.76, "type": "quantitative", "axis": null}, "y": {"field": "v", "type": "quantitative", "axis": null}, "text": {"field": "v", "type": "quantitative", "format": ",d"}}},
    {"data": {"values": [{"v": 1950}, {"v": 1960}, {"v": 1970}, {"v": 1980}, {"v": 1990}, {"v": 2000}, {"v": 2010}, {"v": 2020}]}, "mark": {"type": "text", "align": "center", "baseline": "middle", "font": "Liberation Sans", "fontSize": 12, "color": "#111111"},
     "encoding": {"x": {"field": "v", "type": "quantitative", "axis": null}, "y": {"datum": -98.5, "type": "quantitative", "axis": null}, "text": {"field": "v", "type": "nominal"}}},
    {"data": {"values": [{}]}, "mark": {"type": "text", "text": ["Världsturistorganisationens vision fram till 2020.", "Antal utlandsresor med minst en övernattning (miljoner)"], "lineHeight": 16.6, "align": "left", "baseline": "alphabetic", "font": "Liberation Sans", "fontWeight": "bold", "fontSize": 13.8, "color": "#111111"},
     "encoding": {"x": {"datum": 1936.17, "type": "quantitative", "axis": null}, "y": {"datum": 1925.9, "type": "quantitative", "axis": null}}},
    {"data": {"values": [{}]}, "mark": {"type": "text", "text": "Källa: UNWTO", "align": "right", "baseline": "alphabetic", "font": "Liberation Sans", "fontStyle": "italic", "fontSize": 11.7, "color": "#111111"},
     "encoding": {"x": {"datum": 2024.68, "type": "quantitative", "axis": null}, "y": {"datum": -320.7, "type": "quantitative", "axis": null}}}
   ]
  },
  {
   "layer": [
    {"data": {"name": "L1h"}, "mark": {"type": "text", "align": "left", "baseline": "alphabetic", "font": "Liberation Serif", "fontWeight": "bold", "fontSize": 24.4, "color": "#111111"},
     "encoding": {"x": {"datum": 0, "type": "quantitative", "scale": {"domain": [0, 1], "range": [2, 3]}, "axis": null}, "y": {"field": "i", "type": "quantitative", "scale": {"domain": [0, 1], "range": [428.6, 454.4]}, "axis": null}, "text": {"field": "t"}}},
    {"data": {"name": "L1b"}, "mark": {"type": "text", "align": "left", "baseline": "alphabetic", "font": "Liberation Serif", "fontSize": 21.6, "color": "#1c1c1c"},
     "encoding": {"x": {"datum": 0, "type": "quantitative", "scale": {"domain": [0, 1], "range": [2, 3]}, "axis": null}, "y": {"field": "i", "type": "quantitative", "scale": {"domain": [0, 1], "range": [428.6, 454.4]}, "axis": null}, "text": {"field": "t"}}}
   ]
  },
  {
   "layer": [
    {"data": {"name": "R1h"}, "mark": {"type": "text", "align": "left", "baseline": "alphabetic", "font": "Liberation Serif", "fontWeight": "bold", "fontSize": 24.4, "color": "#111111"},
     "encoding": {"x": {"datum": 0, "type": "quantitative", "scale": {"domain": [0, 1], "range": [506, 507]}, "axis": null}, "y": {"field": "i", "type": "quantitative", "scale": {"domain": [0, 1], "range": [430.6, 456.4]}, "axis": null}, "text": {"field": "t"}}},
    {"data": {"name": "R1b"}, "mark": {"type": "text", "align": "left", "baseline": "alphabetic", "font": "Liberation Serif", "fontSize": 21.6, "color": "#1c1c1c"},
     "encoding": {"x": {"datum": 0, "type": "quantitative", "scale": {"domain": [0, 1], "range": [506, 507]}, "axis": null}, "y": {"field": "i", "type": "quantitative", "scale": {"domain": [0, 1], "range": [430.6, 456.4]}, "axis": null}, "text": {"field": "t"}}}
   ]
  },
  {"data": {"name": "R2b"}, "mark": {"type": "text", "align": "left", "baseline": "alphabetic", "font": "Liberation Serif", "fontSize": 21.6, "color": "#1c1c1c"},
   "encoding": {"x": {"datum": 0, "type": "quantitative", "scale": {"domain": [0, 1], "range": [506, 507]}, "axis": null}, "y": {"field": "i", "type": "quantitative", "scale": {"domain": [0, 1], "range": [689.3, 715.1]}, "axis": null}, "text": {"field": "t"}}},
  {
   "layer": [
    {"data": {"name": "L2h"}, "mark": {"type": "text", "align": "left", "baseline": "alphabetic", "font": "Liberation Serif", "fontWeight": "bold", "fontSize": 24.4, "color": "#111111"},
     "encoding": {"x": {"datum": 0, "type": "quantitative", "scale": {"domain": [0, 1], "range": [2, 3]}, "axis": null}, "y": {"field": "i", "type": "quantitative", "scale": {"domain": [0, 1], "range": [975.3, 1001.1]}, "axis": null}, "text": {"field": "t"}}},
    {"data": {"name": "L2b"}, "mark": {"type": "text", "align": "left", "baseline": "alphabetic", "font": "Liberation Serif", "fontSize": 21.4, "color": "#1c1c1c"},
     "encoding": {"x": {"datum": 0, "type": "quantitative", "scale": {"domain": [0, 1], "range": [2, 3]}, "axis": null}, "y": {"field": "i", "type": "quantitative", "scale": {"domain": [0, 1], "range": [975.3, 1001.1]}, "axis": null}, "text": {"field": "t"}}}
   ]
  },
  {"data": {"name": "L3b"}, "mark": {"type": "text", "align": "left", "baseline": "alphabetic", "font": "Liberation Serif", "fontSize": 21.6, "color": "#1c1c1c"},
   "encoding": {"x": {"datum": 0, "type": "quantitative", "scale": {"domain": [0, 1], "range": [2, 3]}, "axis": null}, "y": {"field": "i", "type": "quantitative", "scale": {"domain": [0, 1], "range": [1286.3, 1312.1]}, "axis": null}, "text": {"field": "t"}}},
  {"data": {"name": "S3h"}, "mark": {"type": "text", "align": "left", "baseline": "alphabetic", "font": "DejaVu Sans", "fontWeight": 200, "fontSize": 22, "color": "#933f38"},
   "encoding": {"x": {"datum": 0, "type": "quantitative", "scale": {"domain": [0, 1], "range": [506, 507]}, "axis": null}, "y": {"field": "i", "type": "quantitative", "scale": {"domain": [0, 1], "range": [1216.7, 1243.3]}, "axis": null}, "text": {"field": "t"}}},
  {"data": {"name": "R3b"}, "mark": {"type": "text", "align": "left", "baseline": "alphabetic", "font": "Liberation Serif", "fontSize": 22.8, "color": "#1c1c1c"},
   "encoding": {"x": {"datum": 0, "type": "quantitative", "scale": {"domain": [0, 1], "range": [506, 507]}, "axis": null}, "y": {"field": "i", "type": "quantitative", "scale": {"domain": [0, 1], "range": [1294.3, 1320.1]}, "axis": null}, "text": {"field": "t"}}},
  {
   "layer": [
    {"data": {"values": [{"t": "RAZORMIND AB, VASAGATAN 11, 1 TR, 111 20 STOCKHOLM"}]}, "mark": {"type": "text", "align": "left", "baseline": "alphabetic", "font": "DejaVu Sans", "fontWeight": 200, "fontSize": 18.8, "color": "#8c8c8c"},
     "encoding": {"x": {"datum": 0, "type": "quantitative", "scale": {"domain": [0, 1], "range": [200, 958]}, "axis": null}, "y": {"datum": 0, "type": "quantitative", "scale": {"domain": [0, 1], "range": [1516, 1517]}, "axis": null}, "text": {"field": "t"}}},
    {"data": {"values": [{"t": "5"}]}, "mark": {"type": "text", "align": "right", "baseline": "alphabetic", "font": "DejaVu Sans", "fontWeight": 200, "fontSize": 23, "color": "#333333"},
     "encoding": {"x": {"datum": 1, "type": "quantitative", "axis": null}, "y": {"datum": 0, "type": "quantitative", "axis": null}, "text": {"field": "t"}}}
   ]
  }
 ]
}
